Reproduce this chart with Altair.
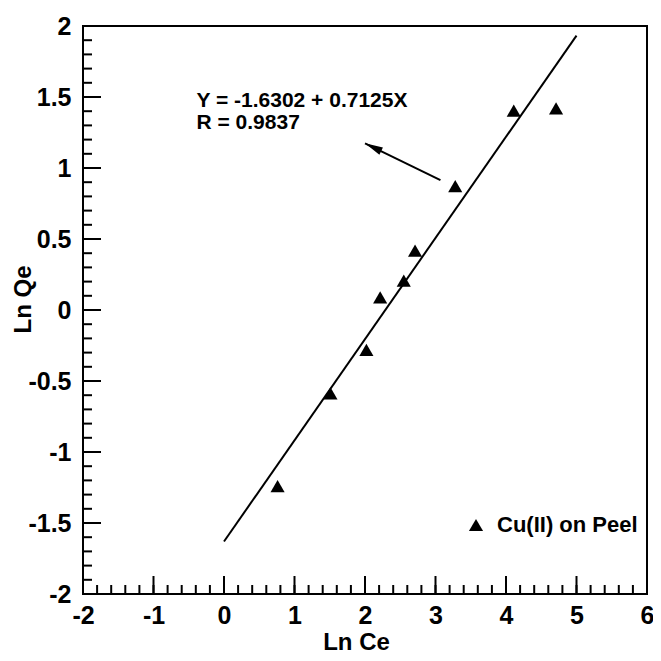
import altair as alt
import pandas as pd

# ---- data ----
ln_ce = [0.76, 1.51, 2.02, 2.215, 2.55, 2.71, 3.28, 4.11, 4.71]
ln_qe = [-1.24, -0.587, -0.28, 0.089, 0.206, 0.418, 0.873, 1.404, 1.42]
series_name = "Cu(II) on Peel"

intercept = -1.6302
slope = 0.7125
fit_x = [0.0, 5.0]

eq_lines = ["Y = -1.6302 + 0.7125X", "R = 0.9837"]
eq_x = [-0.39, -0.39]
eq_y = [1.427, 1.272]

arrow_tail = (3.07, 0.915)
arrow_tip = (2.0, 1.174)

x_major = [-2, -1, 0, 1, 2, 3, 4, 5, 6]
x_minor = [round(-2 + 0.2 * i, 2) for i in range(41)]
y_major = [-2, -1.5, -1, -0.5, 0, 0.5, 1, 1.5, 2]
y_minor = [round(-2 + 0.1 * i, 2) for i in range(41)]

W, H = 564, 568
FONT = "Liberation Sans"

xs = alt.Scale(domain=[-2, 6], nice=False, zero=False)
ys = alt.Scale(domain=[-2, 2], nice=False, zero=False)

pts = pd.DataFrame({"x": ln_ce, "y": ln_qe, "s": [series_name] * len(ln_ce)})
fit = pd.DataFrame({"x": fit_x, "y": [intercept + slope * v for v in fit_x]})
eq = pd.DataFrame({"x": eq_x, "y": eq_y, "t": eq_lines})
arr = pd.DataFrame({"x": [arrow_tail[0]], "y": [arrow_tail[1]],
                    "x2": [arrow_tip[0]], "y2": [arrow_tip[1]]})
tip = pd.DataFrame({"x": [arrow_tip[0]], "y": [arrow_tip[1]]})

points = alt.Chart(pts).mark_point(filled=True, size=200, color="black", opacity=1).encode(
    x=alt.X("x:Q", scale=xs, axis=alt.Axis(
        values=x_major, title="Ln Ce", labelExpr="toString(datum.value)",
        ticks=False, domain=False, grid=False, labelFlush=False, labelOverlap=False,
        labelFont=FONT, labelFontSize=25, labelFontWeight="bold", labelColor="black",
        labelPadding=9,
        titleFont=FONT, titleFontSize=24, titleFontWeight="bold", titleColor="black",
        titleX=273, titleY=48, titleBaseline="middle", titleAlign="center")),
    y=alt.Y("y:Q", scale=ys, axis=alt.Axis(
        values=y_major, title="Ln Qe", labelExpr="toString(datum.value)",
        ticks=False, domain=False, grid=False, labelFlush=False, labelOverlap=False,
        labelFont=FONT, labelFontSize=25, labelFontWeight="bold", labelColor="black",
        labelPadding=12,
        titleFont=FONT, titleFontSize=24, titleFontWeight="bold", titleColor="black",
        titleX=-60, titleY=273, titleBaseline="middle", titleAlign="center",
        titleAngle=270)),
    shape=alt.Shape("s:N", scale=alt.Scale(range=["triangle-up"]), legend=alt.Legend(
        orient="none", legendX=382, legendY=488, title=None,
        labelFont=FONT, labelFontSize=22, labelFontWeight="bold", labelColor="black",
        symbolFillColor="black", symbolStrokeColor="black", symbolSize=200,
        symbolOpacity=1, labelOffset=10, padding=0)),
)

line = alt.Chart(fit).mark_line(color="black", strokeWidth=2).encode(
    x=alt.X("x:Q", scale=xs), y=alt.Y("y:Q", scale=ys))

text = alt.Chart(eq).mark_text(align="left", baseline="alphabetic", font=FONT,
                               fontSize=21, fontWeight="bold", color="black").encode(
    x=alt.X("x:Q", scale=xs), y=alt.Y("y:Q", scale=ys), text="t:N")

arrow_line = alt.Chart(arr).mark_rule(color="black", strokeWidth=2).encode(
    x=alt.X("x:Q", scale=xs), y=alt.Y("y:Q", scale=ys), x2="x2:Q", y2="y2:Q")

arrow_head = alt.Chart(tip).mark_point(shape="M0,0L-0.45,2L0.45,2Z", size=324, angle=296,
                                       filled=True, color="black", opacity=1).encode(
    x=alt.X("x:Q", scale=xs), y=alt.Y("y:Q", scale=ys))

ym = pd.DataFrame({"v": y_major})
yn = pd.DataFrame({"v": y_minor})
xm = pd.DataFrame({"v": x_major})
xn = pd.DataFrame({"v": x_minor})

lt_major = alt.Chart(ym).mark_rule(color="black", strokeWidth=2).encode(
    y=alt.Y("v:Q", scale=ys), x=alt.value(0), x2=alt.value(18))
lt_minor = alt.Chart(yn).mark_rule(color="black", strokeWidth=2).encode(
    y=alt.Y("v:Q", scale=ys), x=alt.value(0), x2=alt.value(9))
bt_major = alt.Chart(xm).mark_rule(color="black", strokeWidth=2).encode(
    x=alt.X("v:Q", scale=xs), y=alt.value(H - 18), y2=alt.value(H))
bt_minor = alt.Chart(xn).mark_rule(color="black", strokeWidth=2).encode(
    x=alt.X("v:Q", scale=xs), y=alt.value(H - 9), y2=alt.value(H))

chart = alt.layer(points, line, text, arrow_line, arrow_head,
                  lt_major, lt_minor, bt_major, bt_minor).properties(
    width=W, height=H,
    autosize=alt.AutoSizeParams(type="none"),
    padding={"left": 75, "top": 18, "right": 6, "bottom": 59},
    background="white",
).configure_view(stroke="black", strokeWidth=2)

chart.save("out.html", embed_options={"renderer": "svg", "actions": False})
